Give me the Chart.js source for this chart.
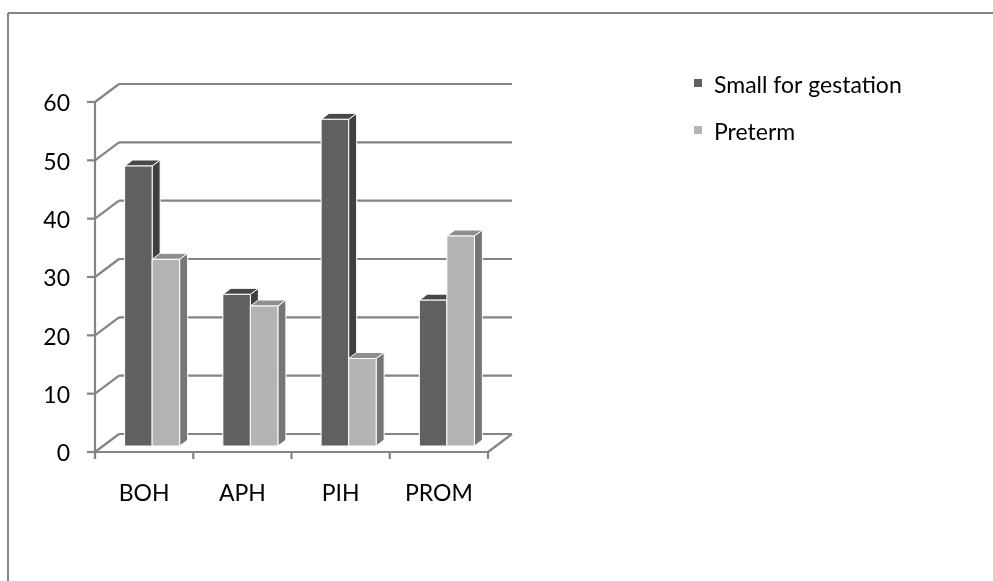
<!DOCTYPE html>
<html lang="en">
<head>
    <meta charset="UTF-8">
    <title>Small for gestation / Preterm</title>
    <script src="https://cdn.jsdelivr.net/npm/chart.js"></script>
    <style>
        html, body { margin: 0; padding: 0; background: #fff; }
        #wrap { position: relative; width: 993px; height: 581px; }
    </style>
</head>
<body>
    <div id="wrap">
        <canvas id="chart" width="993" height="581"></canvas>
    </div>

    <script>
        const categories = ["BOH", "APH", "PIH", "PROM"];
        const smallForGestation = [48, 26, 56, 25];
        const preterm = [32, 24, 15, 36];
        const seriesNames = ["Small for gestation", "Preterm"];
        const yTicks = [0, 10, 20, 30, 40, 50, 60];

        // face colours: front, side, top
        const shades = [
            { front: "#606060", side: "#404040", top: "#484848" },
            { front: "#b3b3b3", side: "#767676", top: "#8e8e8e" },
        ];

        const FONT = "23px Lato, 'Open Sans', sans-serif";
        const LINE = "#848484";
        const WALL_DX = 24, WALL_DY = -18;   // back wall offset
        const BAR_DX = 8, BAR_DY = -6;       // bar front face offset
        const DEPTH_DX = 8, DEPTH_DY = -6;   // bar depth

        function line(ctx, x1, y1, x2, y2) {
            ctx.beginPath();
            ctx.moveTo(x1, y1);
            ctx.lineTo(x2, y2);
            ctx.stroke();
        }

        function poly(ctx, pts, fill) {
            ctx.beginPath();
            ctx.moveTo(pts[0][0], pts[0][1]);
            for (let i = 1; i < pts.length; i++) ctx.lineTo(pts[i][0], pts[i][1]);
            ctx.closePath();
            ctx.fillStyle = fill;
            ctx.fill();
            ctx.strokeStyle = "#ffffff";
            ctx.lineWidth = 1;
            ctx.stroke();
        }

        const threeD = {
            id: "threeD",
            beforeDraw(chart) {
                const ctx = chart.ctx;
                const area = chart.chartArea;
                const y = chart.scales.y;
                const x = chart.scales.x;
                ctx.save();

                // outer frame
                ctx.strokeStyle = LINE;
                ctx.lineWidth = 2;
                line(ctx, 8, 581, 8, 13);
                line(ctx, 8, 13, 993, 13);

                // left wall diagonals + back wall grid
                ctx.lineWidth = 2.2;
                yTicks.forEach(v => {
                    const py = y.getPixelForValue(v);
                    line(ctx, area.left, py, area.left + WALL_DX, py + WALL_DY);
                    line(ctx, area.left + WALL_DX, py + WALL_DY, area.right + WALL_DX, py + WALL_DY);
                    // tick mark
                    line(ctx, area.left - 8, py, area.left, py);
                });

                // front axis and floor
                line(ctx, area.left, area.top, area.left, area.bottom + 7);
                line(ctx, area.left, area.bottom, area.right, area.bottom);
                line(ctx, area.right, area.bottom, area.right + WALL_DX, area.bottom + WALL_DY);
                const step = (area.right - area.left) / categories.length;
                for (let i = 0; i <= categories.length; i++) {
                    const px = area.left + i * step;
                    line(ctx, px, area.bottom, px, area.bottom + 7);
                }

                // labels
                ctx.fillStyle = "#000";
                ctx.font = FONT;
                ctx.textAlign = "right";
                ctx.textBaseline = "middle";
                yTicks.forEach(v => ctx.fillText(String(v), 70, y.getPixelForValue(v) + 2));
                ctx.textAlign = "center";
                categories.forEach((c, i) => ctx.fillText(c, x.getPixelForValue(i), 494));

                // legend
                ctx.textAlign = "left";
                seriesNames.forEach((name, i) => {
                    const ly = 79 + i * 47;
                    ctx.fillStyle = shades[i].front;
                    ctx.fillRect(694, ly, 8, 8);
                    ctx.fillStyle = "#000";
                    ctx.fillText(name, 714, ly + 7);
                });
                ctx.restore();
            },
            beforeDatasetsDraw(chart) {
                const ctx = chart.ctx;
                ctx.save();
                // draw bars left to right so neighbours overlap correctly
                const boxes = [];
                chart.data.datasets.forEach((ds, di) => {
                    chart.getDatasetMeta(di).data.forEach(bar => boxes.push({ bar, di }));
                });
                boxes.sort((a, b) => a.bar.x - b.bar.x);
                boxes.forEach(({ bar, di }) => {
                    const l = bar.x - bar.width / 2 + BAR_DX;
                    const r = bar.x + bar.width / 2 + BAR_DX;
                    const t = bar.y + BAR_DY;
                    const b = bar.base + BAR_DY;
                    const s = shades[di];
                    poly(ctx, [[r, b], [r, t], [r + DEPTH_DX, t + DEPTH_DY], [r + DEPTH_DX, b + DEPTH_DY]], s.side);
                    poly(ctx, [[l, t], [r, t], [r + DEPTH_DX, t + DEPTH_DY], [l + DEPTH_DX, t + DEPTH_DY]], s.top);
                    poly(ctx, [[l, b], [l, t], [r, t], [r, b]], s.front);
                });
                ctx.restore();
                return false; // skip the flat default bars
            },
        };

        new Chart(document.getElementById("chart"), {
            type: "bar",
            data: {
                labels: categories,
                datasets: [
                    { label: seriesNames[0], data: smallForGestation, backgroundColor: shades[0].front },
                    { label: seriesNames[1], data: preterm, backgroundColor: shades[1].front },
                ],
            },
            options: {
                responsive: false,
                animation: false,
                events: [],
                layout: { padding: { left: 95, top: 102, right: 505, bottom: 129 } },
                datasets: { bar: { categoryPercentage: 0.56, barPercentage: 1.0 } },
                plugins: { legend: { display: false }, tooltip: { enabled: false } },
                scales: {
                    x: { display: false, offset: true },
                    y: { display: false, min: 0, max: 60 },
                },
            },
            plugins: [threeD],
        });
    </script>
</body>
</html>
